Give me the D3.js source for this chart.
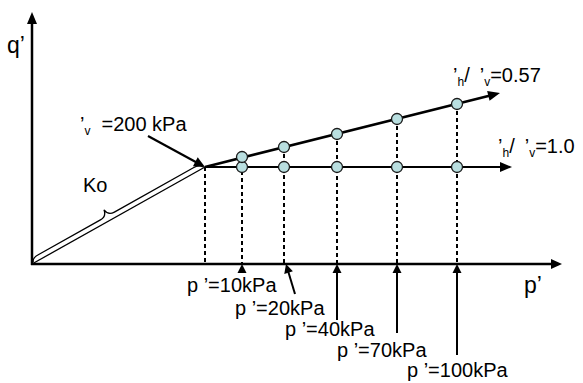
<!DOCTYPE html>
<html>
<head>
<meta charset="utf-8">
<script src="https://cdn.jsdelivr.net/npm/d3@7"></script>
<style>
  body { margin: 0; background: #fff; }
  text { font-family: "Liberation Sans", Arial, sans-serif; fill: #000; }
</style>
</head>
<body>
<svg id="chart" width="583" height="383"></svg>
<script>
// values (p', q' in drawing units)
const pStart = 173, qStart = 97;                 // end of Ko loading, σ'v = 200 kPa
const pSteps = [210, 252, 305, 365, 425];        // p' after each increment
const qIso = [97, 97, 97, 97, 97];               // σ'h/σ'v = 1.0 path
const qK057 = [107, 117, 130, 145, 160];         // σ'h/σ'v = 0.57 path
const isoEnd = [480, 97];
const k057End = [468, 171];
const stepLabels = ['p ’=10kPa', 'p ’=20kPa', 'p ’=40kPa', 'p ’=70kPa', 'p ’=100kPa'];

const svg = d3.select('#chart');
const margin = { left: 32, right: 21, top: 12, bottom: 119 };
const width = 583, height = 383;

const x = d3.scaleLinear().domain([0, 530]).range([margin.left, width - margin.right]);
const y = d3.scaleLinear().domain([0, 252]).range([height - margin.bottom, margin.top]);

function head(x1, y1, x2, y2, len, half) {
  const a = Math.atan2(y2 - y1, x2 - x1);
  const bx = x2 - len * Math.cos(a), by = y2 - len * Math.sin(a);
  const nx = -Math.sin(a) * half, ny = Math.cos(a) * half;
  svg.append('polygon')
    .attr('points', [[x2, y2], [bx + nx, by + ny], [bx - nx, by - ny]].map(p => p.join(',')).join(' '))
    .attr('fill', '#000');
}

function arrow(x1, y1, x2, y2, w, len, half) {
  const a = Math.atan2(y2 - y1, x2 - x1);
  svg.append('line')
    .attr('x1', x1).attr('y1', y1)
    .attr('x2', x2 - (len - 1) * Math.cos(a)).attr('y2', y2 - (len - 1) * Math.sin(a))
    .attr('stroke', '#000').attr('stroke-width', w);
  head(x1, y1, x2, y2, len, half);
}

const x0 = x(0), y0 = y(0);
const sx = x(pStart), sy = y(qStart);

// dashed drop lines
const drops = [pStart].concat(pSteps);
const tops = [qStart].concat(qK057);
drops.forEach((p, i) => {
  svg.append('line')
    .attr('x1', x(p)).attr('x2', x(p))
    .attr('y1', y(tops[i])).attr('y2', y0)
    .attr('stroke', '#000').attr('stroke-width', 2)
    .attr('stroke-dasharray', '4,3');
});

// axes
arrow(x0, y0 + 1, x0, y(252), 2.5, 12, 5);
arrow(x0 - 1, y0, x(530), y0, 2.5, 11, 5);

// Ko line
svg.append('line')
  .attr('x1', x0).attr('y1', y0).attr('x2', sx).attr('y2', sy)
  .attr('stroke', '#000').attr('stroke-width', 1.3);

// brace along Ko line
const L = Math.hypot(sx - x0, sy - y0);
const ang = Math.atan2(sy - y0, sx - x0) * 180 / Math.PI;
const m = L * 0.45;
svg.append('path')
  .attr('transform', `translate(${x0},${y0}) rotate(${ang})`)
  .attr('d', `M2,-1 Q3,-5 10,-5 L${m - 8},-5 Q${m - 1},-5 ${m},-12 Q${m + 1},-5 ${m + 8},-5 L${L - 10},-5 Q${L - 3},-5 ${L - 2},-1`)
  .attr('fill', 'none').attr('stroke', '#000').attr('stroke-width', 1.3);

// stress paths
arrow(sx, sy, x(isoEnd[0]), y(isoEnd[1]), 2, 12, 5);
arrow(sx, sy, x(k057End[0]), y(k057End[1]), 2.6, 12, 5);

// points
const pts = pSteps.map((p, i) => [p, qIso[i]]).concat(pSteps.map((p, i) => [p, qK057[i]]));
svg.selectAll('circle.pt')
  .data(pts)
  .enter().append('circle')
  .attr('class', 'pt')
  .attr('cx', d => x(d[0])).attr('cy', d => y(d[1]))
  .attr('r', 5.5)
  .attr('fill', '#b9dfe0').attr('stroke', '#1a1a1a').attr('stroke-width', 1.3);

// σ'v = 200 kPa pointer
arrow(148, 136, sx, sy, 2.2, 11, 5);

// bottom pointers and labels
const tails = [[0, 8], [9, 30], [0, 56], [0, 69], [0, 91]];
const labelPos = [[187, 292], [235, 315], [285, 336], [337, 357], [407, 377]];
pSteps.forEach((p, i) => {
  const tx = x(p) + (i === 1 ? 2 : 0);
  if (i === 0) head(tx, y0 + 9, tx, y0, 9, 4.5);
  else arrow(tx + tails[i][0], y0 + tails[i][1], tx, y0, 2, 9, 4.5);
  svg.append('text')
    .attr('x', labelPos[i][0]).attr('y', labelPos[i][1])
    .attr('font-size', 20)
    .text(stepLabels[i]);
});

// ratio labels with subscripts
function ratioLabel(tx, ty, val) {
  const t = svg.append('text').attr('x', tx).attr('y', ty).attr('font-size', 20);
  t.append('tspan').text('’');
  t.append('tspan').attr('font-size', 12).attr('dy', 4).text('h');
  t.append('tspan').attr('dy', -4).text('/');
  t.append('tspan').attr('dx', 10).text('’');
  t.append('tspan').attr('font-size', 12).attr('dy', 4).text('v');
  t.append('tspan').attr('dy', -4).text('=' + val);
}
ratioLabel(453, 82, '0.57');
ratioLabel(498, 153, '1.0');

const sv = svg.append('text').attr('x', 80).attr('y', 131).attr('font-size', 20);
sv.append('tspan').text('’');
sv.append('tspan').attr('font-size', 12).attr('dy', 4).text('v');
sv.append('tspan').attr('dy', -4).attr('dx', 11).text('=200 kPa');

// axis titles and Ko
svg.append('text').attr('x', 7).attr('y', 53).attr('font-size', 23).text('q’');
svg.append('text').attr('x', 524).attr('y', 293).attr('font-size', 23).text('p’');
svg.append('text').attr('x', 83).attr('y', 192).attr('font-size', 20).text('Ko');
</script>
</body>
</html>
